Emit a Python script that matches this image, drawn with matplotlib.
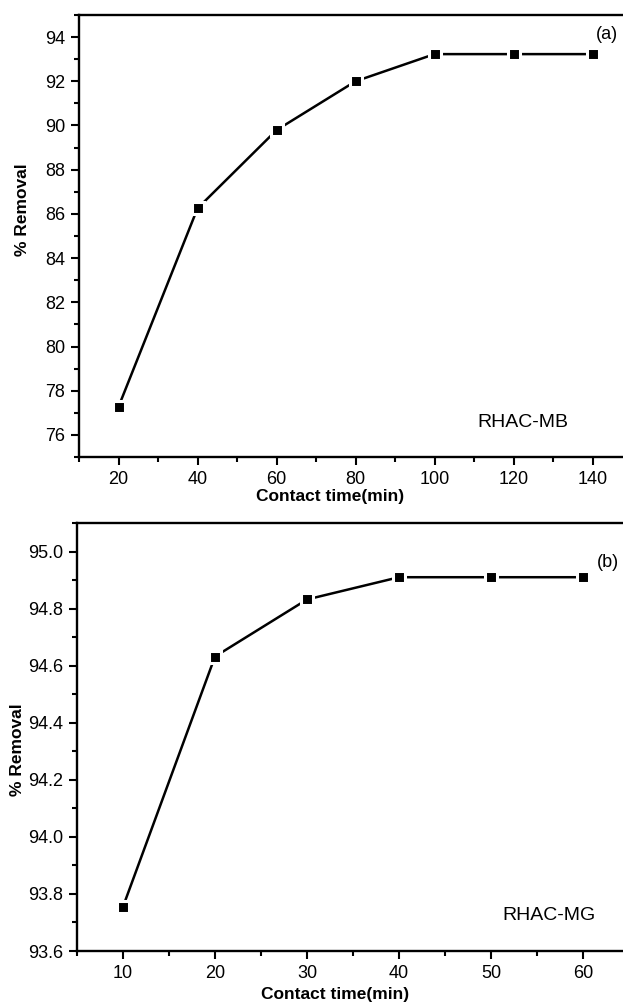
import matplotlib
matplotlib.use('Agg')
import matplotlib.pyplot as plt
from matplotlib.ticker import MultipleLocator

plt.rcParams['font.family'] = ['Liberation Sans', 'DejaVu Sans']

# Removal vs contact time, RHAC with methylene blue (a) and malachite green (b)
time_mb = [20, 40, 60, 80, 100, 120, 140]
removal_mb = [77.27, 86.25, 89.79, 92.0, 93.23, 93.23, 93.23]

time_mg = [10, 20, 30, 40, 50, 60]
removal_mg = [93.755, 94.632, 94.832, 94.91, 94.91, 94.91]

W, H = 623, 1005
fig = plt.figure(figsize=(W / 100, H / 100), dpi=100)


def px_axes(left, top, right, bottom):
    return fig.add_axes([left / W, 1 - bottom / H, (right - left) / W, (bottom - top) / H])


def style(ax):
    for s in ['left', 'bottom', 'top', 'right']:
        ax.spines[s].set_linewidth(1.7)
    ax.tick_params(which='both', direction='out', top=False, right=False, width=1.5)
    ax.tick_params(which='major', length=6, labelsize=13, pad=4)
    ax.tick_params(which='minor', length=3.5)


def draw(ax, x, y):
    ax.plot(x, y, color='black', lw=1.8, marker='s', ms=8.5,
            mfc='black', mec='white', mew=2.2, zorder=3)


# (a) RHAC-MB
ax1 = px_axes(79, 15, 632, 457)
draw(ax1, time_mb, removal_mb)
ax1.set_xlim(10, 150)
ax1.set_ylim(75, 95)
ax1.set_xticks([20, 40, 60, 80, 100, 120, 140])
ax1.xaxis.set_minor_locator(MultipleLocator(10))
ax1.set_yticks([76, 78, 80, 82, 84, 86, 88, 90, 92, 94])
ax1.yaxis.set_minor_locator(MultipleLocator(1))
style(ax1)
ax1.set_xlabel('Contact time(min)', fontsize=12.5, fontweight='bold')
ax1.set_ylabel('% Removal', fontsize=12.5, fontweight='bold')
ax1.xaxis.set_label_coords(0.454, -0.072)
ax1.yaxis.set_label_coords(-0.089, 0.56)
ax1.text(0.955, 0.955, '(a)', transform=ax1.transAxes, fontsize=13,
         ha='center', va='center')
ax1.text(0.802, 0.077, 'RHAC-MB', transform=ax1.transAxes, fontsize=14,
         ha='center', va='center')

# (b) RHAC-MG
ax2 = px_axes(77, 523, 629, 951)
draw(ax2, time_mg, removal_mg)
ax2.set_xlim(5, 65)
ax2.set_ylim(93.6, 95.1)
ax2.set_xticks([10, 20, 30, 40, 50, 60])
ax2.xaxis.set_minor_locator(MultipleLocator(5))
ax2.set_yticks([93.6, 93.8, 94.0, 94.2, 94.4, 94.6, 94.8, 95.0])
ax2.yaxis.set_minor_locator(MultipleLocator(0.1))
ax2.yaxis.set_major_formatter(plt.FormatStrFormatter('%.1f'))
style(ax2)
ax2.set_xlabel('Contact time(min)', fontsize=12.5, fontweight='bold')
ax2.set_ylabel('% Removal', fontsize=12.5, fontweight='bold')
ax2.xaxis.set_label_coords(0.467, -0.084)
ax2.yaxis.set_label_coords(-0.094, 0.47)
ax2.text(0.962, 0.907, '(b)', transform=ax2.transAxes, fontsize=13,
         ha='center', va='center')
ax2.text(0.855, 0.084, 'RHAC-MG', transform=ax2.transAxes, fontsize=14,
         ha='center', va='center')

fig.savefig('out.png', dpi=100)
